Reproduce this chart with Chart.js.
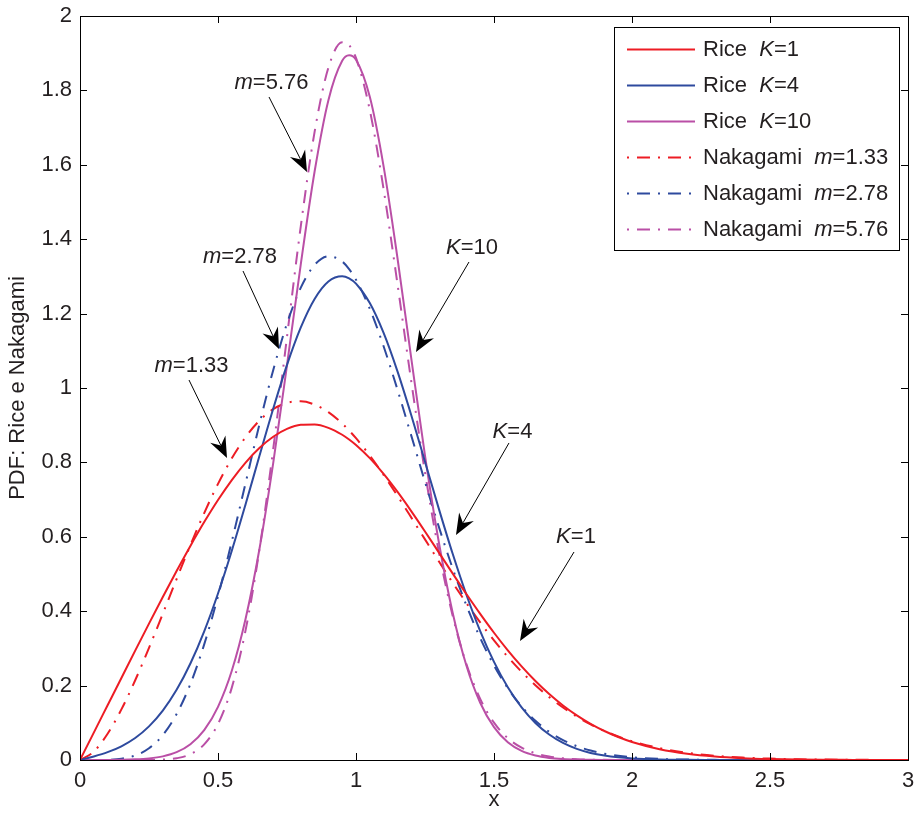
<!DOCTYPE html>
<html>
<head>
<meta charset="utf-8">
<script src="https://cdn.jsdelivr.net/npm/chart.js@4.4.1/dist/chart.umd.min.js"></script>
<style>
  html, body { margin: 0; padding: 0; background: #ffffff; }
  #wrap { width: 917px; height: 814px; }
</style>
</head>
<body>
<div id="wrap"><canvas id="c" width="917" height="814"></canvas></div>
<script>
// ---------- data ----------
const xs = [0,0.05,0.1,0.15,0.2,0.25,0.3,0.35,0.4,0.45,0.5,0.55,0.6,0.65,0.7,0.75,0.8,0.85,0.9,0.95,0.975,
  1.0,1.05,1.1,1.15,1.2,1.25,1.3,1.35,1.4,1.45,1.5,1.55,1.6,1.65,1.7,1.75,1.8,1.85,1.9,1.95,2.0,
  2.1,2.2,2.3,2.4,2.5,2.6,2.7,2.8,2.9,3.0];

const riceK1 = [0,0.0736,0.1471,0.2206,0.2939,0.3665,0.4382,0.5081,0.5755,0.6395,0.6989,0.7526,0.7996,0.8387,0.8690,0.8900,0.9010,0.9020,0.8929,0.8743,0.8616,
  0.8468,0.8114,0.7691,0.7213,0.6692,0.6144,0.5581,0.5017,0.4462,0.3928,0.3421,0.2949,0.2516,0.2124,0.1774,0.1467,0.1201,0.0973,0.0780,0.0619,0.0486,
  0.0291,0.0167,0.0092,0.0049,0.0025,0.0012,0.0006,0.0003,0.0001,0.0000];

const riceK4 = [0,0.0095,0.0211,0.0369,0.0592,0.0904,0.1328,0.1886,0.2593,0.3458,0.4476,0.5626,0.6875,0.8170,0.9443,1.0622,1.1629,1.2395,1.2865,1.3005,1.2947,
  1.2805,1.2283,1.1479,1.0452,0.9274,0.8019,0.6758,0.5550,0.4443,0.3467,0.2637,0.1955,0.1413,0.0995,0.0684,0.0458,0.0299,0.0190,0.0118,0.0071,0.0042,
  0.0014,0.0004,0.0001,0,0,0,0,0,0,0];

const riceK10 = [0,0.0001,0.0002,0.0006,0.0017,0.0043,0.0098,0.0210,0.0424,0.0802,0.1429,0.2398,0.3795,0.5664,0.7979,1.0612,1.3331,1.5819,1.7738,1.8796,1.8945,
  1.8826,1.7827,1.5958,1.3508,1.0812,0.8184,0.5859,0.3967,0.2540,0.1539,0.0882,0.0478,0.0245,0.0119,0.0055,0.0024,0.0010,0.0004,0.0001,0.0000,0,
  0,0,0,0,0,0,0,0,0,0];

const nakM133 = [0,0.0226,0.0706,0.1361,0.2144,0.3014,0.3933,0.4865,0.5777,0.6638,0.7423,0.8109,0.8679,0.9122,0.9430,0.9602,0.9642,0.9554,0.9351,0.9045,0.8858,
  0.8651,0.8185,0.7665,0.7105,0.6522,0.5930,0.5342,0.4768,0.4218,0.3699,0.3216,0.2773,0.2370,0.2010,0.1690,0.1410,0.1167,0.0958,0.0780,0.0631,0.0506,
  0.0318,0.0194,0.0115,0.0066,0.0037,0.0020,0.0011,0.0005,0.0003,0.0001];

const nakM278 = [0,0.0000,0.0006,0.0034,0.0121,0.0314,0.0669,0.1234,0.2044,0.3108,0.4403,0.5877,0.7448,0.9018,1.0480,1.1734,1.2697,1.3309,1.3543,1.3400,1.3196,
  1.2911,1.2129,1.1122,0.9963,0.8726,0.7477,0.6273,0.5155,0.4156,0.3279,0.2540,0.1930,0.1440,0.1055,0.0758,0.0536,0.0372,0.0254,0.0170,0.0112,0.0073,
  0.0029,0.0011,0.0004,0.0001,0,0,0,0,0,0];

const nakM576 = [0,0,0,0,0.0000,0.0002,0.0011,0.0047,0.0155,0.0419,0.0966,0.1946,0.3491,0.5654,0.8357,1.1374,1.4352,1.6885,1.8610,1.9293,1.9216,
  1.8873,1.7471,1.5345,1.2812,1.0189,0.7730,0.5603,0.3885,0.2580,0.1642,0.1003,0.0588,0.0332,0.0180,0.0094,0.0047,0.0023,0.0011,0.0005,0.0002,0.0001,
  0,0,0,0,0,0,0,0,0,0];

const xTicks = [0,0.5,1,1.5,2,2.5,3];
const yTicks = [0,0.2,0.4,0.6,0.8,1,1.2,1.4,1.6,1.8,2];

// legend entries: [plain prefix, italic symbol, suffix]
const legendNames = [
  ['Rice  ','K','=1'],
  ['Rice  ','K','=4'],
  ['Rice  ','K','=10'],
  ['Nakagami  ','m','=1.33'],
  ['Nakagami  ','m','=2.78'],
  ['Nakagami  ','m','=5.76']
];

// annotations (data coordinates): italic symbol, rest, text centre, arrow tail, arrow tip
const annotations = [
  { sym:'m', rest:'=5.76', tx:0.694, ty:1.820, x0:0.6848, y0:1.7823, x1:0.8225, y1:1.5806 },
  { sym:'m', rest:'=2.78', tx:0.5797, ty:1.3522, x0:0.5906, y0:1.3145, x1:0.7210, y1:1.1048 },
  { sym:'m', rest:'=1.33', tx:0.4040, ty:1.0591, x0:0.3949, y0:1.0215, x1:0.5326, y1:0.8118 },
  { sym:'K', rest:'=10', tx:1.4203, ty:1.3763, x0:1.4094, y0:1.3387, x1:1.2174, y1:1.0968 },
  { sym:'K', rest:'=4', tx:1.5670, ty:0.8817, x0:1.5543, y0:0.8522, x1:1.3623, y1:0.6048 },
  { sym:'K', rest:'=1', tx:1.7971, ty:0.5995, x0:1.7899, y0:0.5591, x1:1.5942, y1:0.3199 }
];

// ---------- styling ----------
const RED = 'rgb(237,28,36)';
const BLUE = 'rgb(46,74,158)';
const MAG = 'rgb(186,79,166)';
const TXT = '#231f20';
const FONT = '"Liberation Sans", Arial, Helvetica, sans-serif';
const DASHDOT = [13, 8, 2, 8];
const FS = 22;

function pts(ys) { return xs.map((x, i) => ({ x: x, y: ys[i] })); }

function ds(ys, color, dashed) {
  return {
    data: pts(ys),
    borderColor: color,
    backgroundColor: color,
    borderWidth: 2,
    borderDash: dashed ? DASHDOT : [],
    pointRadius: 0,
    fill: false,
    cubicInterpolationMode: 'monotone',
    tension: 0
  };
}

const datasets = [
  ds(riceK1, RED, false),
  ds(riceK4, BLUE, false),
  ds(riceK10, MAG, false),
  ds(nakM133, RED, true),
  ds(nakM278, BLUE, true),
  ds(nakM576, MAG, true)
];

function drawRich(ctx, parts, x, y, size, align) {
  const widths = parts.map(p => { ctx.font = (p.italic ? 'italic ' : '') + size + 'px ' + FONT; return ctx.measureText(p.t).width; });
  const total = widths.reduce((a, b) => a + b, 0);
  let cx = align === 'center' ? x - total / 2 : x;
  ctx.textAlign = 'left';
  ctx.textBaseline = 'middle';
  parts.forEach((p, i) => {
    ctx.font = (p.italic ? 'italic ' : '') + size + 'px ' + FONT;
    ctx.fillText(p.t, cx, y);
    cx += widths[i];
  });
}

function zeroPad(s) { s.paddingTop = 0; s.paddingBottom = 0; s.paddingLeft = 0; s.paddingRight = 0; }

const decor = {
  id: 'decor',
  afterDraw(chart) {
    const ctx = chart.ctx;
    const a = chart.chartArea;
    const xs_ = chart.scales.x, ys_ = chart.scales.y;
    ctx.save();

    // box
    ctx.strokeStyle = '#000';
    ctx.lineWidth = 1;
    ctx.setLineDash([]);
    ctx.strokeRect(Math.round(a.left) + 0.5, Math.round(a.top) + 0.5, Math.round(a.right - a.left), Math.round(a.bottom - a.top));

    // inward ticks on all four sides
    const TL = 7;
    ctx.beginPath();
    xTicks.forEach(v => {
      const px = Math.round(xs_.getPixelForValue(v)) + 0.5;
      ctx.moveTo(px, a.bottom); ctx.lineTo(px, a.bottom - TL);
      ctx.moveTo(px, a.top); ctx.lineTo(px, a.top + TL);
    });
    yTicks.forEach(v => {
      const py = Math.round(ys_.getPixelForValue(v)) + 0.5;
      ctx.moveTo(a.left, py); ctx.lineTo(a.left + TL, py);
      ctx.moveTo(a.right, py); ctx.lineTo(a.right - TL, py);
    });
    ctx.stroke();

    // annotations
    ctx.fillStyle = TXT;
    annotations.forEach(an => {
      const tx = xs_.getPixelForValue(an.tx), ty = ys_.getPixelForValue(an.ty);
      ctx.fillStyle = TXT;
      drawRich(ctx, [{ t: an.sym, italic: true }, { t: an.rest, italic: false }], tx, ty, FS, 'center');
      const x0 = xs_.getPixelForValue(an.x0), y0 = ys_.getPixelForValue(an.y0);
      const x1 = xs_.getPixelForValue(an.x1), y1 = ys_.getPixelForValue(an.y1);
      const dx = x1 - x0, dy = y1 - y0, len = Math.hypot(dx, dy);
      const ux = dx / len, uy = dy / len, nx = -uy, ny = ux;
      const L = 21, W = 8.5, IN = 7;
      ctx.strokeStyle = '#000';
      ctx.lineWidth = 1;
      ctx.beginPath();
      ctx.moveTo(x0, y0);
      ctx.lineTo(x1 - ux * (L - IN), y1 - uy * (L - IN));
      ctx.stroke();
      ctx.fillStyle = '#000';
      ctx.beginPath();
      ctx.moveTo(x1, y1);
      ctx.lineTo(x1 - ux * L + nx * W, y1 - uy * L + ny * W);
      ctx.lineTo(x1 - ux * (L - IN), y1 - uy * (L - IN));
      ctx.lineTo(x1 - ux * L - nx * W, y1 - uy * L - ny * W);
      ctx.closePath();
      ctx.fill();
    });

    // legend box
    const lx = a.right - 294, ly = a.top + 11, lw = 285, lh = 223;
    ctx.fillStyle = '#fff';
    ctx.fillRect(lx, ly, lw, lh);
    ctx.strokeStyle = '#000';
    ctx.lineWidth = 1;
    ctx.strokeRect(Math.round(lx) + 0.5, Math.round(ly) + 0.5, lw, lh);
    chart.data.datasets.forEach((d, i) => {
      const rowY = Math.round(ly + 22 + i * 36) + 0.5;
      ctx.strokeStyle = d.borderColor;
      ctx.lineWidth = 2;
      ctx.setLineDash(d.borderDash || []);
      ctx.lineDashOffset = (d.borderDash && d.borderDash.length) ? 21 : 0;
      ctx.beginPath();
      ctx.moveTo(lx + 13, rowY);
      ctx.lineTo(lx + 81, rowY);
      ctx.stroke();
      ctx.setLineDash([]);
      ctx.lineDashOffset = 0;
      ctx.fillStyle = TXT;
      const n = legendNames[i];
      drawRich(ctx, [{ t: n[0], italic: false }, { t: n[1], italic: true }, { t: n[2], italic: false }], lx + 89, rowY, FS, 'left');
    });

    // axis titles
    ctx.fillStyle = TXT;
    ctx.font = FS + 'px ' + FONT;
    ctx.textAlign = 'center';
    ctx.textBaseline = 'middle';
    ctx.fillText('x', (a.left + a.right) / 2, 800);
    ctx.save();
    ctx.translate(18, (a.top + a.bottom) / 2);
    ctx.rotate(-Math.PI / 2);
    ctx.fillText('PDF: Rice e Nakagami', 0, 0);
    ctx.restore();

    ctx.restore();
  }
};

new Chart(document.getElementById('c'), {
  type: 'line',
  data: { datasets: datasets },
  options: {
    responsive: false,
    animation: false,
    events: [],
    layout: { padding: { top: 16, right: 9, left: 0, bottom: 0 } },
    plugins: { legend: { display: false }, tooltip: { enabled: false }, title: { display: false } },
    scales: {
      x: {
        type: 'linear', min: 0, max: 3,
        grid: { display: false, drawTicks: false },
        border: { display: false },
        afterBuildTicks: s => { s.ticks = xTicks.map(v => ({ value: v })); },
        afterFit: s => { s.height = 54; zeroPad(s); },
        ticks: { padding: 8, color: TXT, font: { family: FONT, size: FS }, maxRotation: 0, callback: v => String(v) }
      },
      y: {
        type: 'linear', min: 0, max: 2,
        grid: { display: false, drawTicks: false },
        border: { display: false },
        afterBuildTicks: s => { s.ticks = yTicks.map(v => ({ value: v })); },
        afterFit: s => { s.width = 80; zeroPad(s); },
        ticks: { padding: 8, color: TXT, font: { family: FONT, size: FS }, callback: v => String(v) }
      }
    }
  },
  plugins: [decor]
});
</script>
</body>
</html>
